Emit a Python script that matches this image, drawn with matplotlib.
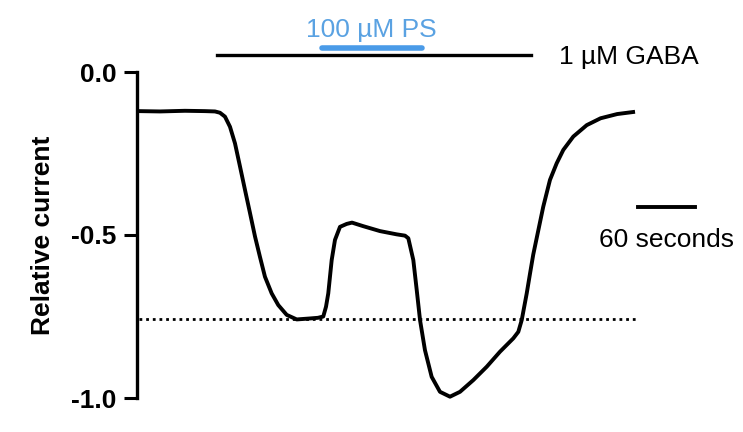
import matplotlib
matplotlib.use("Agg")
import matplotlib.pyplot as plt

# ── Data ──────────────────────────────────────────────────────────────────────
time_s = [0, 22.2, 48.7, 69.8, 80.4, 85.7, 91.0, 96.3, 101.6, 106.9, 112.2,
          117.5, 122.8, 128.0, 133.3, 140.4, 147.4, 156.3, 166.9, 181.0, 189.4,
          195.0, 197.9, 200.3, 203.9, 207.4, 212.7, 219.8, 225.4, 237.4, 255.0,
          272.7, 281.5, 285.0, 290.3, 293.9, 297.4, 302.6, 309.7, 318.5, 329.1,
          339.7, 353.8, 368.0, 382.0, 396.1, 401.4, 405.0, 410.3, 413.8, 417.2,
          420.8, 427.8, 434.9, 442.0, 449.0, 459.6, 473.8, 488.4, 506.0, 524.9]
current = [-0.12, -0.121, -0.119, -0.12, -0.121, -0.125, -0.137, -0.168, -0.219,
           -0.29, -0.362, -0.433, -0.505, -0.567, -0.628, -0.679, -0.715, -0.745,
           -0.759, -0.756, -0.754, -0.75, -0.72, -0.679, -0.577, -0.515, -0.475,
           -0.466, -0.462, -0.473, -0.488, -0.498, -0.502, -0.51, -0.577, -0.669,
           -0.761, -0.853, -0.935, -0.981, -0.996, -0.981, -0.945, -0.904, -0.858,
           -0.817, -0.797, -0.761, -0.679, -0.618, -0.56, -0.51, -0.413, -0.331,
           -0.28, -0.239, -0.198, -0.163, -0.142, -0.129, -0.122]

gaba_on, gaba_off = 82.5, 414.8
ps_on, ps_off = 193.3, 299.1
ref_level = -0.758
ref_end = 528
scale_bar = [528, 588]

y_ticks = [0.0, -0.5, -1.0]
y_ticklabels = ["0.0", "-0.5", "-1.0"]

BLACK = "#000000"
PS_BLUE = "#4a9be8"
PS_TEXT = "#5aa2e2"

plt.rcParams.update({
    "font.family": ["Liberation Sans", "DejaVu Sans"],
    "axes.unicode_minus": False,
})

W, H = 743, 432
fig = plt.figure(figsize=(W / 100, H / 100), dpi=100)
left_px, right_px, top_px, bot_px = 137, 700, 72, 398
ax = fig.add_axes([left_px / W, 1 - bot_px / H,
                   (right_px - left_px) / W, (bot_px - top_px) / H])

ax.plot(time_s, current, color=BLACK, linewidth=2.8, solid_joinstyle="round",
        solid_capstyle="butt", clip_on=False, zorder=3)
ax.plot([0, ref_end], [ref_level, ref_level], color=BLACK, linewidth=2,
        linestyle=(0, (1, 1.4)), clip_on=False)

# drug application bars
ax.plot([gaba_on, gaba_off], [0.052, 0.052], color=BLACK, linewidth=2.4,
        clip_on=False)
ax.plot([ps_on, ps_off], [0.075, 0.075], color=PS_BLUE, linewidth=4,
        solid_capstyle="round", clip_on=False)
ax.text(444.4, 0.046, "1 µM GABA", fontsize=19, ha="left", va="center",
        clip_on=False)
ax.text((ps_on + ps_off) / 2, 0.13, "100 µM PS", fontsize=19, color=PS_TEXT,
        ha="center", va="center", clip_on=False)

# time scale bar
ax.plot(scale_bar, [-0.415, -0.415], color=BLACK, linewidth=2.8, clip_on=False)
ax.text(sum(scale_bar) / 2, -0.515, "60 seconds", fontsize=19, ha="center",
        va="center", clip_on=False)

ax.set_xlim(-2.1, (right_px - 139) / 0.945)
ax.set_ylim(-1.0, 0.0)
ax.set_yticks(y_ticks)
ax.set_yticklabels(y_ticklabels, fontsize=19, fontweight="bold")
ax.tick_params(axis="y", length=9.5, width=2.2, pad=5)
ax.set_ylabel("Relative current", fontsize=19, fontweight="bold")
ax.yaxis.set_label_coords(-0.145, 0.5)

for side in ("top", "right", "bottom"):
    ax.spines[side].set_visible(False)
ax.spines["left"].set_linewidth(2.4)
ax.set_xticks([])

fig.savefig("out.png", dpi=100)
